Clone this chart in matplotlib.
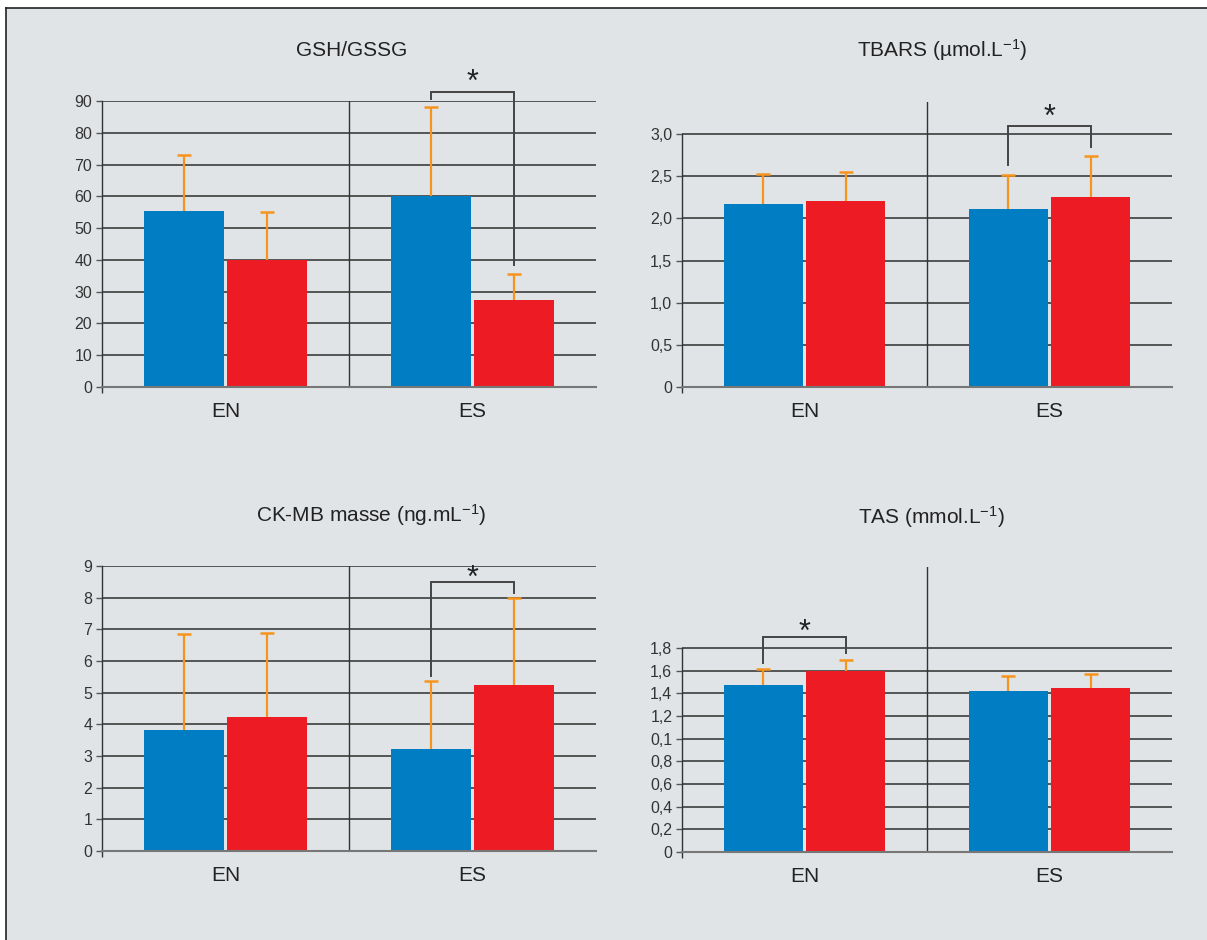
import matplotlib.pyplot as plt
from matplotlib.patches import Rectangle
from matplotlib.lines import Line2D
import numpy as np

plt.rcParams['font.family'] = ['Liberation Sans', 'DejaVu Sans']
plt.rcParams['mathtext.default'] = 'regular'

groups = ['EN', 'ES']

# means and upper SD, blue = first series, red = second series
gsh_blue = [55.5, 60.0]
gsh_blue_sd = [17.5, 28.0]
gsh_red = [40.0, 27.5]
gsh_red_sd = [15.0, 8.0]

tbars_blue = [2.17, 2.11]
tbars_blue_sd = [0.36, 0.40]
tbars_red = [2.20, 2.25]
tbars_red_sd = [0.35, 0.49]

ck_blue = [3.82, 3.22]
ck_blue_sd = [3.03, 2.15]
ck_red = [4.23, 5.24]
ck_red_sd = [2.64, 2.75]

tas_blue = [1.47, 1.42]
tas_blue_sd = [0.145, 0.135]
tas_red = [1.60, 1.445]
tas_red_sd = [0.095, 0.125]

gsh_ticks = [0, 10, 20, 30, 40, 50, 60, 70, 80, 90]
gsh_labels = ['0', '10', '20', '30', '40', '50', '60', '70', '80', '90']
tbars_ticks = [0, 0.5, 1.0, 1.5, 2.0, 2.5, 3.0]
tbars_labels = ['0', '0,5', '1,0', '1,5', '2,0', '2,5', '3,0']
ck_ticks = [0, 1, 2, 3, 4, 5, 6, 7, 8, 9]
ck_labels = ['0', '1', '2', '3', '4', '5', '6', '7', '8', '9']
tas_ticks = [0, 0.2, 0.4, 0.6, 0.8, 1.0, 1.2, 1.4, 1.6, 1.8]
tas_labels = ['0', '0,2', '0,4', '0,6', '0,8', '0,1', '1,2', '1,4', '1,6', '1,8']

BLUE = '#007dc3'
RED = '#ed1c24'
ORANGE = '#f7941d'
BG = '#e1e4e7'
INK = '#333333'
STAR_FS = 22

W, H = 1207, 940
fig = plt.figure(figsize=(W / 100, H / 100), dpi=100)
fig.patch.set_facecolor('white')
fig.patches.append(Rectangle((6 / W, 0), 1 - 6 / W, 1 - 8 / H, transform=fig.transFigure,
                             facecolor=BG, edgecolor='none', zorder=-5))
fig.lines.append(Line2D([6 / W, 6 / W], [0, 1 - 8 / H], transform=fig.transFigure,
                        color='#222222', lw=1.2, zorder=-4))
fig.lines.append(Line2D([6 / W, 1], [1 - 8 / H, 1 - 8 / H], transform=fig.transFigure,
                        color='#222222', lw=1.2, zorder=-4))


def px_rect(x0, y0, x1, y1):
    return [x0 / W, 1 - y1 / H, (x1 - x0) / W, (y1 - y0) / H]


def panel(rect, ytop, blue, blue_sd, red, red_sd, ticks, labels, bracket=None):
    ax = fig.add_axes(rect)
    ax.set_facecolor('none')
    x = np.arange(len(groups))
    w = 0.324
    off = 0.168
    ax.bar(x - off, blue, w, color=BLUE, zorder=2)
    ax.bar(x + off, red, w, color=RED, zorder=2)
    # upper error bars only
    for xs, m, sd in ((x - off, blue, blue_sd), (x + off, red, red_sd)):
        tops = np.array(m) + np.array(sd)
        ax.vlines(xs, m, tops, color=ORANGE, lw=1.6, zorder=3)
        ax.plot(xs, tops, ls='none', marker='_', ms=9.6, mew=1.8, color=ORANGE, zorder=3)
    ax.set_xlim(-0.5, 1.5)
    ax.set_ylim(0, ytop)
    ax.set_yticks(ticks)
    ax.set_yticklabels(labels)
    ax.yaxis.grid(True, color='#3c3c3c', lw=1.2)
    ax.set_axisbelow(True)
    ax.axvline(0.5, color=INK, lw=1.0, zorder=1)
    for s in ('top', 'right'):
        ax.spines[s].set_visible(False)
    ax.spines['left'].set_bounds(0, ticks[-1])
    ax.spines['left'].set_color(INK)
    ax.spines['left'].set_linewidth(1.0)
    ax.spines['bottom'].set_color('#777777')
    ax.spines['bottom'].set_linewidth(1.5)
    ax.tick_params(axis='y', length=4, width=1.0, color='#555555', pad=3,
                   labelsize=11.5, labelcolor=INK)
    ax.set_xticks([-0.5])
    ax.set_xticklabels([''])
    ax.tick_params(axis='x', which='major', length=4, width=1.0, color=INK)
    ax.set_xticks(x, minor=True)
    ax.set_xticklabels(groups, minor=True)
    ax.tick_params(axis='x', which='minor', length=0, pad=10.5, labelsize=15, labelcolor='#222222')
    if bracket:
        gi, level, left_end, right_end, star = bracket
        x0, x1 = gi - off, gi + off
        ax.plot([x0, x0, x1, x1], [left_end, level, level, right_end], color='#444444',
                lw=1.4, clip_on=False, zorder=4, solid_joinstyle='miter')
        # baseline shifted so the asterisk glyph sits on the star value
        ax.annotate('*', xy=(gi, star), xytext=(0, -0.42 * STAR_FS), textcoords='offset points',
                    ha='center', va='baseline', fontsize=STAR_FS, color='#222222',
                    annotation_clip=False)
    return ax


panel(px_rect(102, 101, 596, 387), 90, gsh_blue, gsh_blue_sd, gsh_red, gsh_red_sd,
      gsh_ticks, gsh_labels, bracket=(1, 92.8, 90.6, 38.4, 97.2))
panel(px_rect(682, 102, 1172, 387), 3.38, tbars_blue, tbars_blue_sd, tbars_red, tbars_red_sd,
      tbars_ticks, tbars_labels, bracket=(1, 3.095, 2.63, 2.85, 3.25))
panel(px_rect(102, 566, 596, 851), 9, ck_blue, ck_blue_sd, ck_red, ck_red_sd,
      ck_ticks, ck_labels, bracket=(1, 8.49, 5.53, 8.16, 8.75))
panel(px_rect(682, 567, 1172, 852), 2.515, tas_blue, tas_blue_sd, tas_red, tas_red_sd,
      tas_ticks, tas_labels, bracket=(0, 1.895, 1.67, 1.76, 1.976))

title_kw = dict(ha='center', va='center', fontsize=15, color='#222222')
fig.text(352 / W, 1 - 50 / H, 'GSH/GSSG', **title_kw)
fig.text(942 / W, 1 - 50 / H, r'TBARS (µmol.L$^{-1}$)', **title_kw)
fig.text(371 / W, 1 - 515 / H, r'CK-MB masse (ng.mL$^{-1}$)', **title_kw)
fig.text(931 / W, 1 - 517 / H, r'TAS (mmol.L$^{-1}$)', **title_kw)

fig.savefig('out.png', dpi=100, facecolor=fig.get_facecolor())
